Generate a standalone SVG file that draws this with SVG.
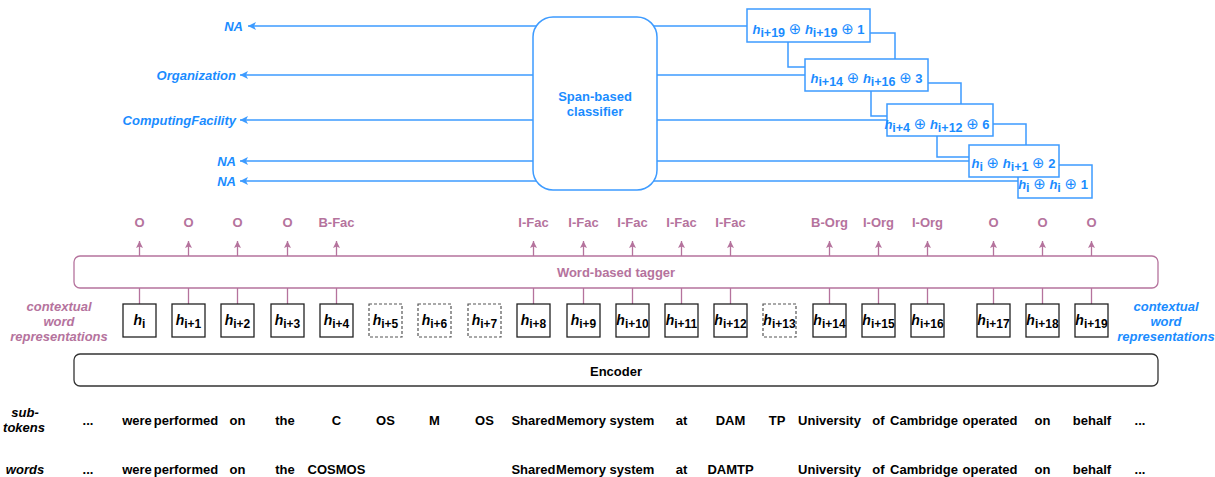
<svg xmlns="http://www.w3.org/2000/svg" width="1215" height="477" viewBox="0 0 1215 477">
<style>
text{font-family:"Liberation Sans",Arial,"DejaVu Sans",sans-serif;font-weight:bold;font-size:13px}
.blue{fill:#1A8CFF}
.pur{fill:#B5739D}
.blk{fill:#000}
.it{font-style:italic}
.mid{text-anchor:middle}
.end{text-anchor:end}
.hx{font-size:14px}
.sub{font-style:normal;font-size:12px}
.sub2{font-style:normal;font-size:12.5px}
.op{font-family:"DejaVu Sans",sans-serif;font-weight:normal;font-size:15px}
.bl{stroke:#3D9BFF;stroke-width:1.5;fill:none}
.pl{stroke:#B5739D;stroke-width:1.3;fill:none}
.hb{fill:#fff;stroke:#222;stroke-width:1.3}
.hd{fill:#fff;stroke:#555;stroke-width:1.2;stroke-dasharray:3 2}
.sb{fill:#fff;stroke:#3D9BFF;stroke-width:1.5}
</style>
<defs>
<marker id="ab" markerUnits="userSpaceOnUse" markerWidth="9" markerHeight="9" refX="8" refY="4.5" orient="auto">
<path d="M0,0.5 L8,4.5 L0,8.5 L2,4.5 z" fill="#3D9BFF"/>
</marker>
<marker id="ap" markerUnits="userSpaceOnUse" markerWidth="8" markerHeight="8" refX="7" refY="4" orient="auto">
<path d="M0,0.5 L7,4 L0,7.5 L1.5,4 z" fill="#B5739D"/>
</marker>
</defs>

<g id="connectors">
<path class="bl" d="M747,26 H248" marker-end="url(#ab)"/>
<path class="bl" d="M805,75 H240" marker-end="url(#ab)"/>
<path class="bl" d="M887,120 H240" marker-end="url(#ab)"/>
<path class="bl" d="M969,161 H240" marker-end="url(#ab)"/>
<path class="bl" d="M1018,181 H240" marker-end="url(#ab)"/>
<path class="bl" d="M788,42 V67 H805"/>
<path class="bl" d="M870,33 H895 V59"/>
<path class="bl" d="M871,91 V116 H887"/>
<path class="bl" d="M928,83 H961 V104"/>
<path class="bl" d="M937,136 V157 H969"/>
<path class="bl" d="M993,124 H1026 V145"/>
<path class="pl" d="M139.5,304 V288 M188.5,304 V288 M237.5,304 V288 M287.5,304 V288 M336.5,304 V288 M533.5,304 V288 M583.5,304 V288 M632.5,304 V288 M681.5,304 V288 M730.5,304 V288 M829.5,304 V288 M878.5,304 V288 M927.5,304 V288 M993.5,304 V288 M1042.5,304 V288 M1091.5,304 V288"/>
<path class="pl" d="M139.5,256 V241" marker-end="url(#ap)"/>
<path class="pl" d="M188.5,256 V241" marker-end="url(#ap)"/>
<path class="pl" d="M237.5,256 V241" marker-end="url(#ap)"/>
<path class="pl" d="M287.5,256 V241" marker-end="url(#ap)"/>
<path class="pl" d="M336.5,256 V241" marker-end="url(#ap)"/>
<path class="pl" d="M533.5,256 V241" marker-end="url(#ap)"/>
<path class="pl" d="M583.5,256 V241" marker-end="url(#ap)"/>
<path class="pl" d="M632.5,256 V241" marker-end="url(#ap)"/>
<path class="pl" d="M681.5,256 V241" marker-end="url(#ap)"/>
<path class="pl" d="M730.5,256 V241" marker-end="url(#ap)"/>
<path class="pl" d="M829.5,256 V241" marker-end="url(#ap)"/>
<path class="pl" d="M878.5,256 V241" marker-end="url(#ap)"/>
<path class="pl" d="M927.5,256 V241" marker-end="url(#ap)"/>
<path class="pl" d="M993.5,256 V241" marker-end="url(#ap)"/>
<path class="pl" d="M1042.5,256 V241" marker-end="url(#ap)"/>
<path class="pl" d="M1091.5,256 V241" marker-end="url(#ap)"/>
</g>

<g id="outputs">
<text class="blue it end" x="243" y="30.5">NA</text>
<text class="blue it end" x="236" y="79.5">Organization</text>
<text class="blue it end" x="236" y="124.5">ComputingFacility</text>
<text class="blue it end" x="236" y="165.5">NA</text>
<text class="blue it end" x="236" y="185.5">NA</text>
</g>

<g id="classifier">
<rect x="533" y="17" width="124" height="173" rx="20" fill="#fff" stroke="#3D9BFF" stroke-width="1.5"/>
<text class="blue mid" x="595" y="100.5">Span-based</text>
<text class="blue mid" x="595" y="115.5">classifier</text>
</g>

<g id="span1">
<rect class="sb" x="747" y="9" width="123" height="33"/>
<text class="blue mid" x="808.5" y="34" font-size="14"><tspan class="it">h</tspan><tspan class="sub2" dy="3">i+19</tspan><tspan dy="-3"> </tspan><tspan class="op">⊕</tspan> <tspan class="it">h</tspan><tspan class="sub2" dy="3">i+19</tspan><tspan dy="-3"> </tspan><tspan class="op">⊕</tspan> 1</text>
</g>
<g id="span2">
<rect class="sb" x="805" y="59" width="123" height="32"/>
<text class="blue mid" x="866.5" y="83" font-size="14"><tspan class="it">h</tspan><tspan class="sub2" dy="3">i+14</tspan><tspan dy="-3"> </tspan><tspan class="op">⊕</tspan> <tspan class="it">h</tspan><tspan class="sub2" dy="3">i+16</tspan><tspan dy="-3"> </tspan><tspan class="op">⊕</tspan> 3</text>
</g>
<g id="span3">
<rect class="sb" x="887" y="104" width="106" height="32"/>
<text class="blue mid" x="937" y="129" font-size="14"><tspan class="it">h</tspan><tspan class="sub2" dy="3">i+4</tspan><tspan dy="-3"> </tspan><tspan class="op">⊕</tspan> <tspan class="it">h</tspan><tspan class="sub2" dy="3">i+12</tspan><tspan dy="-3"> </tspan><tspan class="op">⊕</tspan> 6</text>
</g>
<g id="span5">
<rect class="sb" x="1018" y="165" width="74" height="33"/>
<text class="blue mid" x="1053" y="189" font-size="14"><tspan class="it">h</tspan><tspan class="sub2" dy="3">i</tspan><tspan dy="-3"> </tspan><tspan class="op">⊕</tspan> <tspan class="it">h</tspan><tspan class="sub2" dy="3">i</tspan><tspan dy="-3"> </tspan><tspan class="op">⊕</tspan> 1</text>
</g>
<g id="span4">
<rect class="sb" x="969" y="145" width="90" height="32"/>
<text class="blue mid" x="1013.5" y="168" font-size="14"><tspan class="it">h</tspan><tspan class="sub2" dy="3">i</tspan><tspan dy="-3"> </tspan><tspan class="op">⊕</tspan> <tspan class="it">h</tspan><tspan class="sub2" dy="3">i+1</tspan><tspan dy="-3"> </tspan><tspan class="op">⊕</tspan> 2</text>
</g>

<g id="tags">
<text class="pur mid" x="139.5" y="227">O</text>
<text class="pur mid" x="188.5" y="227">O</text>
<text class="pur mid" x="237.5" y="227">O</text>
<text class="pur mid" x="287.5" y="227">O</text>
<text class="pur mid" x="336.5" y="227">B-Fac</text>
<text class="pur mid" x="533.5" y="227">I-Fac</text>
<text class="pur mid" x="583.5" y="227">I-Fac</text>
<text class="pur mid" x="632.5" y="227">I-Fac</text>
<text class="pur mid" x="681.5" y="227">I-Fac</text>
<text class="pur mid" x="730.5" y="227">I-Fac</text>
<text class="pur mid" x="829.5" y="227">B-Org</text>
<text class="pur mid" x="878.5" y="227">I-Org</text>
<text class="pur mid" x="927.5" y="227">I-Org</text>
<text class="pur mid" x="993.5" y="227">O</text>
<text class="pur mid" x="1042.5" y="227">O</text>
<text class="pur mid" x="1091.5" y="227">O</text>
</g>

<g id="tagger">
<rect x="74" y="256" width="1084" height="32" rx="6" fill="#fff" stroke="#B5739D" stroke-width="1.3"/>
<text class="pur mid" x="616" y="276.5">Word-based tagger</text>
</g>

<g id="ctx-left">
<text class="pur it mid" x="59" y="310.5">contextual</text>
<text class="pur it mid" x="59" y="325.5">word</text>
<text class="pur it mid" x="59" y="340.5">representations</text>
</g>
<g id="ctx-right">
<text class="blue it mid" x="1166" y="310.5">contextual</text>
<text class="blue it mid" x="1166" y="325.5">word</text>
<text class="blue it mid" x="1166" y="340.5">representations</text>
</g>

<g id="hboxes">
<g id="h0"><rect class="hb" x="123" y="304" width="33" height="33"/><text class="blk mid hx" x="139.5" y="325"><tspan class="it">h</tspan><tspan class="sub" dy="3">i</tspan></text></g>
<g id="h1"><rect class="hb" x="172" y="304" width="33" height="33"/><text class="blk mid hx" x="188.5" y="325"><tspan class="it">h</tspan><tspan class="sub" dy="3">i+1</tspan></text></g>
<g id="h2"><rect class="hb" x="221" y="304" width="33" height="33"/><text class="blk mid hx" x="237.5" y="325"><tspan class="it">h</tspan><tspan class="sub" dy="3">i+2</tspan></text></g>
<g id="h3"><rect class="hb" x="271" y="304" width="33" height="33"/><text class="blk mid hx" x="287.5" y="325"><tspan class="it">h</tspan><tspan class="sub" dy="3">i+3</tspan></text></g>
<g id="h4"><rect class="hb" x="320" y="304" width="33" height="33"/><text class="blk mid hx" x="336.5" y="325"><tspan class="it">h</tspan><tspan class="sub" dy="3">i+4</tspan></text></g>
<g id="h5"><rect class="hd" x="369" y="304" width="33" height="33"/><text class="blk mid hx" x="385.5" y="325"><tspan class="it">h</tspan><tspan class="sub" dy="3">i+5</tspan></text></g>
<g id="h6"><rect class="hd" x="418" y="304" width="33" height="33"/><text class="blk mid hx" x="434.5" y="325"><tspan class="it">h</tspan><tspan class="sub" dy="3">i+6</tspan></text></g>
<g id="h7"><rect class="hd" x="468" y="304" width="33" height="33"/><text class="blk mid hx" x="484.5" y="325"><tspan class="it">h</tspan><tspan class="sub" dy="3">i+7</tspan></text></g>
<g id="h8"><rect class="hb" x="517" y="304" width="33" height="33"/><text class="blk mid hx" x="533.5" y="325"><tspan class="it">h</tspan><tspan class="sub" dy="3">i+8</tspan></text></g>
<g id="h9"><rect class="hb" x="567" y="304" width="33" height="33"/><text class="blk mid hx" x="583.5" y="325"><tspan class="it">h</tspan><tspan class="sub" dy="3">i+9</tspan></text></g>
<g id="h10"><rect class="hb" x="616" y="304" width="33" height="33"/><text class="blk mid hx" x="632.5" y="325"><tspan class="it">h</tspan><tspan class="sub" dy="3">i+10</tspan></text></g>
<g id="h11"><rect class="hb" x="665" y="304" width="33" height="33"/><text class="blk mid hx" x="681.5" y="325"><tspan class="it">h</tspan><tspan class="sub" dy="3">i+11</tspan></text></g>
<g id="h12"><rect class="hb" x="714" y="304" width="33" height="33"/><text class="blk mid hx" x="730.5" y="325"><tspan class="it">h</tspan><tspan class="sub" dy="3">i+12</tspan></text></g>
<g id="h13"><rect class="hd" x="763" y="304" width="33" height="33"/><text class="blk mid hx" x="779.5" y="325"><tspan class="it">h</tspan><tspan class="sub" dy="3">i+13</tspan></text></g>
<g id="h14"><rect class="hb" x="813" y="304" width="33" height="33"/><text class="blk mid hx" x="829.5" y="325"><tspan class="it">h</tspan><tspan class="sub" dy="3">i+14</tspan></text></g>
<g id="h15"><rect class="hb" x="862" y="304" width="33" height="33"/><text class="blk mid hx" x="878.5" y="325"><tspan class="it">h</tspan><tspan class="sub" dy="3">i+15</tspan></text></g>
<g id="h16"><rect class="hb" x="911" y="304" width="33" height="33"/><text class="blk mid hx" x="927.5" y="325"><tspan class="it">h</tspan><tspan class="sub" dy="3">i+16</tspan></text></g>
<g id="h17"><rect class="hb" x="977" y="304" width="33" height="33"/><text class="blk mid hx" x="993.5" y="325"><tspan class="it">h</tspan><tspan class="sub" dy="3">i+17</tspan></text></g>
<g id="h18"><rect class="hb" x="1026" y="304" width="33" height="33"/><text class="blk mid hx" x="1042.5" y="325"><tspan class="it">h</tspan><tspan class="sub" dy="3">i+18</tspan></text></g>
<g id="h19"><rect class="hb" x="1075" y="304" width="33" height="33"/><text class="blk mid hx" x="1091.5" y="325"><tspan class="it">h</tspan><tspan class="sub" dy="3">i+19</tspan></text></g>
</g>

<g id="encoder">
<rect x="74" y="354" width="1084" height="32" rx="6" fill="#fff" stroke="#333" stroke-width="1.3"/>
<text class="blk mid" x="616" y="375.5">Encoder</text>
</g>

<g id="subtokens">
<text class="blk it mid" x="25" y="417">sub-</text>
<text class="blk it mid" x="24" y="432">tokens</text>
<text class="blk mid" x="88" y="425">...</text>
<text class="blk mid" x="137" y="425">were</text>
<text class="blk mid" x="186" y="425">performed</text>
<text class="blk mid" x="237.5" y="425">on</text>
<text class="blk mid" x="285" y="425">the</text>
<text class="blk mid" x="336.5" y="425">C</text>
<text class="blk mid" x="385.5" y="425">OS</text>
<text class="blk mid" x="434.5" y="425">M</text>
<text class="blk mid" x="484.5" y="425">OS</text>
<text class="blk mid" x="533.5" y="425">Shared</text>
<text class="blk mid" x="581" y="425">Memory</text>
<text class="blk mid" x="632" y="425">system</text>
<text class="blk mid" x="681.5" y="425">at</text>
<text class="blk mid" x="730.5" y="425">DAM</text>
<text class="blk mid" x="777" y="425">TP</text>
<text class="blk mid" x="829.5" y="425">University</text>
<text class="blk mid" x="878.5" y="425">of</text>
<text class="blk mid" x="924" y="425">Cambridge</text>
<text class="blk mid" x="990" y="425">operated</text>
<text class="blk mid" x="1042.5" y="425">on</text>
<text class="blk mid" x="1092" y="425">behalf</text>
<text class="blk mid" x="1140" y="425">...</text>
</g>

<g id="words">
<text class="blk it mid" x="25" y="474">words</text>
<text class="blk mid" x="88" y="474">...</text>
<text class="blk mid" x="137" y="474">were</text>
<text class="blk mid" x="186" y="474">performed</text>
<text class="blk mid" x="237.5" y="474">on</text>
<text class="blk mid" x="285" y="474">the</text>
<text class="blk mid" x="336.5" y="474">COSMOS</text>
<text class="blk mid" x="533.5" y="474">Shared</text>
<text class="blk mid" x="581" y="474">Memory</text>
<text class="blk mid" x="632" y="474">system</text>
<text class="blk mid" x="681.5" y="474">at</text>
<text class="blk mid" x="730.5" y="474">DAMTP</text>
<text class="blk mid" x="829.5" y="474">University</text>
<text class="blk mid" x="878.5" y="474">of</text>
<text class="blk mid" x="924" y="474">Cambridge</text>
<text class="blk mid" x="990" y="474">operated</text>
<text class="blk mid" x="1042.5" y="474">on</text>
<text class="blk mid" x="1092" y="474">behalf</text>
<text class="blk mid" x="1140" y="474">...</text>
</g>
</svg>
